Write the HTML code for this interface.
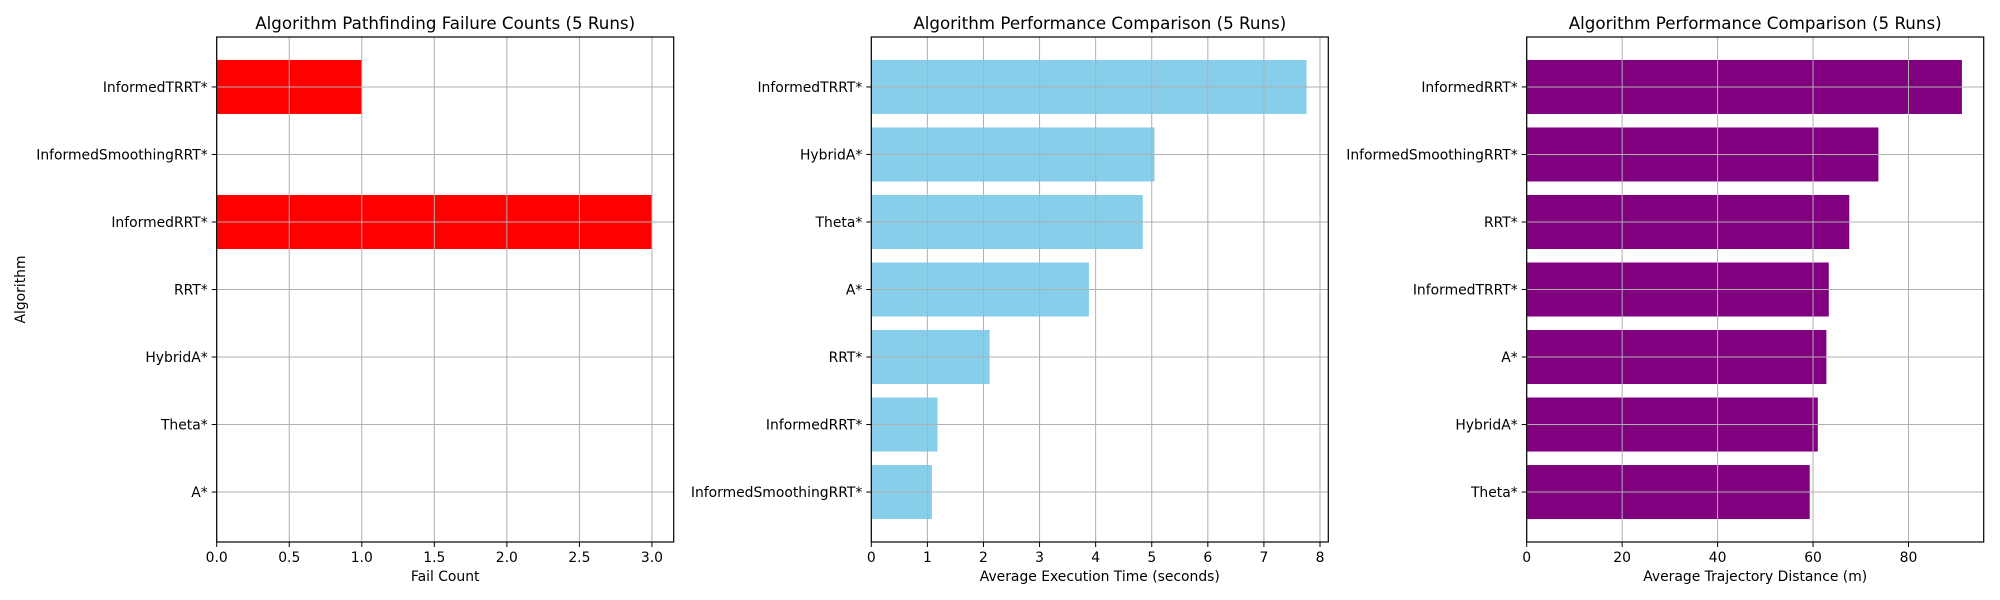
<!DOCTYPE html>
<html><head><meta charset="utf-8"><style>
body{margin:0;background:#fff;}
svg{display:block;font-family:"DejaVu Sans","Liberation Sans",sans-serif;}
</style></head><body>
<svg id="chart" width="2000" height="600" xmlns="http://www.w3.org/2000/svg"></svg>
<script>
const cats1 = ["A*","Theta*","HybridA*","RRT*","InformedRRT*","InformedSmoothingRRT*","InformedTRRT*"];
const vals1 = [0,0,0,0,3,0,1];
const ticks1 = [0,0.5,1.0,1.5,2.0,2.5,3.0];
const tickLabels1 = ["0.0","0.5","1.0","1.5","2.0","2.5","3.0"];

const cats2 = ["InformedSmoothingRRT*","InformedRRT*","RRT*","A*","Theta*","HybridA*","InformedTRRT*"];
const vals2 = [1.08,1.18,2.11,3.88,4.84,5.05,7.76];
const ticks2 = [0,1,2,3,4,5,6,7,8];
const tickLabels2 = ["0","1","2","3","4","5","6","7","8"];

const cats3 = ["Theta*","HybridA*","A*","InformedTRRT*","RRT*","InformedSmoothingRRT*","InformedRRT*"];
const vals3 = [59.3,61.0,62.8,63.3,67.6,73.7,91.2];
const ticks3 = [0,20,40,60,80];
const tickLabels3 = ["0","20","40","60","80"];

const svg = document.getElementById('chart');
const NS = "http://www.w3.org/2000/svg";
function mk(tag, attrs, parent){
  const e = document.createElementNS(NS, tag);
  for (const k in attrs) e.setAttribute(k, attrs[k]);
  parent.appendChild(e);
  return e;
}
const TOP = 37, BOT = 542, W = 457;
function panel(id, left, cats, vals, ticks, tickLabels, xmax, color, title, xlabel, ylabel){
  const g = mk('g', {}, svg);
  
  
  const n = cats.length;
  const ymin = -0.4 - 0.05*(n-1+0.8), ymax = n-1+0.4 + 0.05*(n-1+0.8);
  const xs = v => left + v / xmax * W;
  const ys = v => BOT - (v - ymin) / (ymax - ymin) * (BOT - TOP);
  cats.forEach((c,i) => {
    if (vals[i] <= 0) return;
    const y0 = ys(i+0.4), y1 = ys(i-0.4);
    const r = mk('rect', {x:xs(0), y:y0, width:xs(vals[i])-xs(0), height:y1-y0, fill:color}, g);
    
    
  });
  ticks.forEach(t => {
    const l = mk('line', {x1:xs(t), x2:xs(t), y1:TOP, y2:BOT, stroke:'#b0b0b0', 'stroke-width':1}, g);
    
    
  });
  cats.forEach((c,i) => {
    const l = mk('line', {x1:left, x2:left+W, y1:ys(i), y2:ys(i), stroke:'#b0b0b0', 'stroke-width':1}, g);
    
    
  });
  const f = mk('rect', {x:left, y:TOP, width:W, height:BOT-TOP, fill:'none', stroke:'#000', 'stroke-width':1.2}, g);
  
  
  ticks.forEach((t,i) => {
    mk('line', {x1:xs(t), x2:xs(t), y1:BOT, y2:BOT+5, stroke:'#000', 'stroke-width':1}, g);
    const tx = mk('text', {x:xs(t), y:BOT+20, 'font-size':13.9, 'text-anchor':'middle', fill:'#000'}, g);
    tx.textContent = tickLabels[i];
    
    
  });
  cats.forEach((c,i) => {
    mk('line', {x1:left-5, x2:left, y1:ys(i), y2:ys(i), stroke:'#000', 'stroke-width':1}, g);
    const tx = mk('text', {x:left-9, y:ys(i)+5, 'font-size':13.9, 'text-anchor':'end', fill:'#000'}, g);
    tx.textContent = c;
    
    
  });
  const tt = mk('text', {x:left+W/2, y:29, 'font-size':16.7, 'text-anchor':'middle', fill:'#000'}, g);
  tt.textContent = title;
  
  
  const xl = mk('text', {x:left+W/2, y:581, 'font-size':13.9, 'text-anchor':'middle', fill:'#000'}, g);
  xl.textContent = xlabel;
  
  
  if (ylabel){
    const yl = mk('text', {x:0, y:0, 'font-size':13.9, 'text-anchor':'middle', fill:'#000', transform:'translate(25,' + ((TOP+BOT)/2) + ') rotate(-90)'}, g);
    yl.textContent = ylabel;
    
    
  }
}
panel('failure-count-panel', 216.7, cats1, vals1, ticks1, tickLabels1, Math.max(...vals1)*1.05, '#ff0000', 'Algorithm Pathfinding Failure Counts (5 Runs)', 'Fail Count', 'Algorithm');
panel('execution-time-panel', 871.3, cats2, vals2, ticks2, tickLabels2, Math.max(...vals2)*1.05, '#87ceeb', 'Algorithm Performance Comparison (5 Runs)', 'Average Execution Time (seconds)', null);
panel('trajectory-distance-panel', 1526.7, cats3, vals3, ticks3, tickLabels3, Math.max(...vals3)*1.05, '#800080', 'Algorithm Performance Comparison (5 Runs)', 'Average Trajectory Distance (m)', null);
</script>
</body></html>
